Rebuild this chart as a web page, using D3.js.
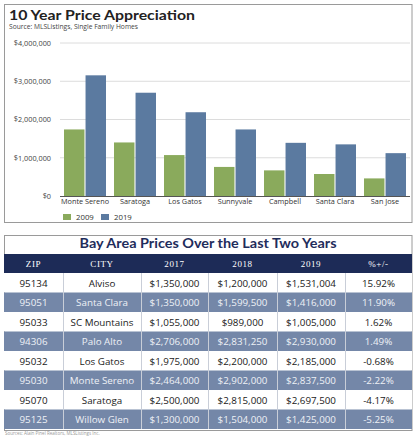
<!DOCTYPE html>
<html><head><meta charset="utf-8">
<script src="https://cdn.jsdelivr.net/npm/d3@7"></script>
<style>html,body{margin:0;padding:0;background:#fff;}svg{display:block;}</style>
</head><body>
<script>
// ---- Bar chart data ----
const cities = ["Monte Sereno","Saratoga","Los Gatos","Sunnyvale","Campbell","Santa Clara","San Jose"];
const years = ["2009","2019"];
const values2009 = [1740000,1400000,1070000,760000,670000,575000,460000];
const values2019 = [3155000,2700000,2190000,1740000,1390000,1350000,1120000];
const yTicks = [0,1000000,2000000,3000000,4000000];
const yTickLabels = ["$0","$1,000,000","$2,000,000","$3,000,000","$4,000,000"];

// ---- Table data ----
const tableHeaders = ["ZIP","CITY","2017","2018","2019","%+/-"];
const zips = ["95134","95051","95033","94306","95032","95030","95070","95125"];
const tableCities = ["Alviso","Santa Clara","SC Mountains","Palo Alto","Los Gatos","Monte Sereno","Saratoga","Willow Glen"];
const p2017 = ["$1,350,000","$1,350,000","$1,055,000","$2,706,000","$1,975,000","$2,464,000","$2,500,000","$1,300,000"];
const p2018 = ["$1,200,000","$1,599,500","$989,000","$2,831,250","$2,200,000","$2,902,000","$2,815,000","$1,504,000"];
const p2019 = ["$1,531,004","$1,416,000","$1,005,000","$2,930,000","$2,185,000","$2,837,500","$2,697,500","$1,425,000"];
const pct = ["15.92%","11.90%","1.62%","1.49%","-0.68%","-2.22%","-4.17%","-5.25%"];

const W = 417, H = 436;
const green = "#8aaa5c", blue = "#5b7aa0";
const navy = "#1d2b57", shade = "#7487a8";

const svg = d3.select("body").append("svg").attr("width", W).attr("height", H);

// ===== Top panel =====
svg.append("rect").attr("x",4.5).attr("y",4.5).attr("width",407.5).attr("height",218)
  .attr("fill","#fff").attr("stroke","#9a9a9a").attr("stroke-width",1);

svg.append("text").attr("x",9).attr("y",20).text("10 Year Price Appreciation")
  .attr("font-family","Lato, 'Open Sans', sans-serif").attr("font-weight",700)
  .attr("font-size",14).attr("fill","#222")
  .attr("textLength",186).attr("lengthAdjust","spacingAndGlyphs");
svg.append("text").attr("x",9).attr("y",29).text("Source: MLSListings, Single Family Homes")
  .attr("font-family","'Open Sans', sans-serif").attr("font-size",6.2).attr("fill","#444")
  .attr("textLength",129).attr("lengthAdjust","spacingAndGlyphs");

const y = d3.scaleLinear().domain([0,4000000]).range([196,43]);
const x0 = d3.scaleBand().domain(cities).range([60,410]).paddingInner(0.16).paddingOuter(0.08);
const x1 = d3.scaleBand().domain(years).range([0,x0.bandwidth()]).paddingInner(0.05);

// gridlines
svg.append("g").selectAll("line").data(yTicks.slice(1)).join("line")
  .attr("x1",60).attr("x2",410).attr("y1",d=>y(d)).attr("y2",d=>y(d))
  .attr("stroke","#dcdcdc").attr("stroke-width",1);

// y axis labels via d3 axis
const yAxis = d3.axisLeft(y).tickValues(yTicks).tickSize(0).tickPadding(0)
  .tickFormat((d,i)=>yTickLabels[i]);
const yg = svg.append("g").attr("transform","translate(51,0)").call(yAxis);
yg.select(".domain").remove();
yg.selectAll("text").attr("font-family","'Open Sans', sans-serif").attr("font-size",7.3).attr("fill","#444");

// bars
const series = [values2009, values2019];
const gGroups = svg.append("g").selectAll("g").data(cities).join("g")
  .attr("transform",d=>`translate(${x0(d)},0)`);
gGroups.selectAll("rect").data((c,i)=>years.map((yr,k)=>({yr, v: series[k][i]}))).join("rect")
  .attr("x",d=>x1(d.yr)).attr("width",x1.bandwidth())
  .attr("y",d=>y(d.v)).attr("height",d=>y(0)-y(d.v))
  .attr("fill",d=>d.yr==="2009"?green:blue);

// baseline
svg.append("line").attr("x1",60).attr("x2",410).attr("y1",y(0)+0.5).attr("y2",y(0)+0.5)
  .attr("stroke","#555").attr("stroke-width",1);

// x axis labels
const xAxis = d3.axisBottom(x0).tickSize(0).tickPadding(0);
const xg = svg.append("g").attr("transform","translate(0,199)").call(xAxis);
xg.select(".domain").remove();
xg.selectAll("text").attr("font-family","'Open Sans', sans-serif").attr("font-size",7.3).attr("fill","#333");

// legend
const lg = svg.append("g").selectAll("g").data(years).join("g")
  .attr("transform",(d,i)=>`translate(${63+i*38},214)`);
lg.append("rect").attr("width",8).attr("height",6).attr("fill",d=>d==="2009"?green:blue);
lg.append("text").attr("x",13).attr("y",6).text(d=>d)
  .attr("font-family","'Open Sans', sans-serif").attr("font-size",7.8).attr("fill","#333");

// ===== Table =====
const cols = [4,63,141,208,277,345,412];
const tTop = 235, hTop = 254, hH = 19, rowTop = 273, rowH = 19.5;

svg.append("rect").attr("x",4.5).attr("y",tTop+0.5).attr("width",407.5).attr("height",195)
  .attr("fill","#fff").attr("stroke","#9a9a9a");

svg.append("text").attr("x",208).attr("y",248).attr("text-anchor","middle")
  .text("Bay Area Prices Over the Last Two Years")
  .attr("font-family","Lato, 'Open Sans', sans-serif").attr("font-weight",700)
  .attr("font-size",12.5).attr("fill","#1f2d5c")
  .attr("textLength",257).attr("lengthAdjust","spacingAndGlyphs");

svg.append("rect").attr("x",4).attr("y",hTop).attr("width",408).attr("height",hH).attr("fill",navy);
svg.append("g").selectAll("text").data(tableHeaders).join("text")
  .attr("x",(d,i)=>(cols[i]+cols[i+1])/2).attr("y",hTop+13).attr("text-anchor","middle")
  .text(d=>d).attr("font-family","'Liberation Serif', serif").attr("font-size",9)
  .attr("letter-spacing",0.6).attr("fill","#fff");

const rows = zips.map((z,i)=>[z, tableCities[i], p2017[i], p2018[i], p2019[i], pct[i]]);
const rg = svg.append("g").selectAll("g").data(rows).join("g")
  .attr("transform",(d,i)=>`translate(0,${rowTop+i*rowH})`);
rg.append("rect").attr("x",4).attr("width",408).attr("height",rowH)
  .attr("fill",(d,i)=>i%2===1?shade:"#fff");
rg.selectAll("text").data((d,i)=>d.map(v=>({v, shaded:i%2===1}))).join("text")
  .attr("x",(d,j)=>(cols[j]+cols[j+1])/2).attr("y",13.5).attr("text-anchor","middle")
  .text(d=>d.v).attr("font-family","'Open Sans', sans-serif").attr("font-size",9.8)
  .attr("fill",d=>d.shaded?"#eef1f6":"#1a1a1a");

// column dividers
svg.append("g").selectAll("line").data(cols.slice(1,-1)).join("line")
  .attr("x1",d=>d+0.5).attr("x2",d=>d+0.5).attr("y1",rowTop).attr("y2",rowTop+rowH*8)
  .attr("stroke","#c9ced8").attr("stroke-width",1);

// footer
svg.append("text").attr("x",5).attr("y",434.5).text("Sources: Alain Pinel Realtors, MLSListings Inc.")
  .attr("font-family","'Open Sans', sans-serif").attr("font-size",4.5).attr("fill","#999");
</script>
</body></html>
